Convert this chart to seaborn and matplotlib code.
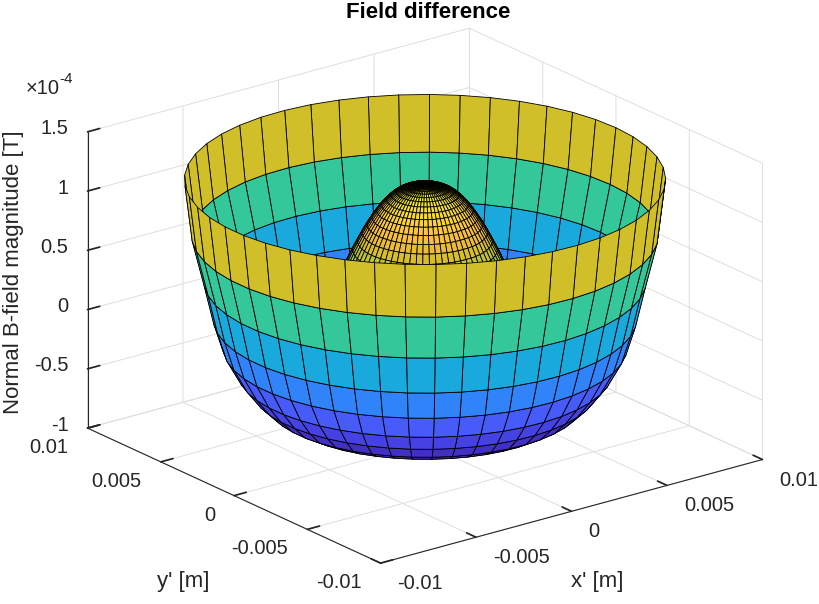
import numpy as np
import matplotlib
matplotlib.use("Agg")
import matplotlib.pyplot as plt
import seaborn as sns
from matplotlib.colors import LinearSegmentedColormap, Normalize
from mpl_toolkits.mplot3d.art3d import Poly3DCollection
from mpl_toolkits.mplot3d import proj3d

# ---------- DATA (radial profile, z in units of 1e-4 T) ----------
bump_r = [0.0, 0.0002, 0.0004, 0.0006, 0.0008, 0.0010, 0.0012, 0.0014, 0.0016,
          0.0018, 0.0020, 0.0022, 0.0024, 0.0026, 0.0028, 0.0030, 0.0032, 0.0034,
          0.0036, 0.0038, 0.0040, 0.0042, 0.0044]
bump_z = [1.182, 1.181, 1.178, 1.172, 1.163, 1.148, 1.127, 1.098, 1.062,
          1.020, 0.971, 0.915, 0.853, 0.787, 0.714, 0.639, 0.559, 0.475,
          0.390, 0.304, 0.219, 0.135, 0.054]
bowl_r = [0.0044, 0.0050, 0.0055, 0.0060, 0.0066, 0.0072, 0.0078, 0.0084,
          0.0088, 0.0092, 0.0097, 0.0100]
bowl_z = [0.054, -0.55, -0.72, -0.70, -0.64, -0.53, -0.385, -0.182,
          0.059, 0.383, 0.765, 1.23]

xy_ticks = [-0.01, -0.005, 0, 0.005, 0.01]
xy_ticklabels = ["-0.01", "-0.005", "0", "0.005", "0.01"]
z_ticks = [-1, -0.5, 0, 0.5, 1, 1.5]
z_ticklabels = ["-1", "-0.5", "0", "0.5", "1", "1.5"]

# parula-like colormap
parula_pts = [
    (0.2422, 0.1504, 0.6603), (0.2706, 0.2147, 0.8364), (0.2813, 0.3006, 0.9414),
    (0.2699, 0.3892, 0.9906), (0.1963, 0.4847, 0.9892), (0.1687, 0.5703, 0.9359),
    (0.1248, 0.6459, 0.8883), (0.0297, 0.7082, 0.8163), (0.0964, 0.7500, 0.7120),
    (0.2161, 0.7843, 0.5923), (0.3909, 0.8029, 0.4354), (0.6174, 0.7876, 0.2612),
    (0.8203, 0.7498, 0.1535), (0.9728, 0.7298, 0.2394), (0.9892, 0.8136, 0.1885),
    (0.9597, 0.9135, 0.1423), (0.9769, 0.9839, 0.0805)]
parula_pos = [i * 4 / 63 for i in range(16)] + [1.0]
parula = LinearSegmentedColormap.from_list("parula", list(zip(parula_pos, parula_pts)))

sns.set_theme(style="white")
plt.rcParams["font.family"] = ["Liberation Sans", "DejaVu Sans"]
TXT = "#262626"
GRID = "#dedede"
FS = 14.5

zmin = min(min(bump_z), min(bowl_z))
zmax = max(max(bump_z), max(bowl_z))
norm = Normalize(zmin, zmax)


def polar_quads(r, z, n_theta):
    r = np.asarray(r)
    z = np.asarray(z)
    th = np.linspace(0, 2 * np.pi, n_theta)
    X = r[:, None] * np.cos(th)[None, :]
    Y = r[:, None] * np.sin(th)[None, :]
    Z = np.repeat(z[:, None], n_theta, axis=1)
    verts, vals = [], []
    for i in range(len(r) - 1):
        for j in range(n_theta - 1):
            idx = [(i, j), (i + 1, j), (i + 1, j + 1), (i, j + 1)]
            verts.append([(X[a, b], Y[a, b], Z[a, b]) for a, b in idx])
            vals.append(Z[i, j])  # flat colour from first vertex
    return verts, vals


v1, c1 = polar_quads(bowl_r, bowl_z, 50)
v2, c2 = polar_quads(bump_r, bump_z, 65)

fig = plt.figure(figsize=(8.2, 6.04), dpi=100)
ax = fig.add_subplot(projection="3d")
ax.set_proj_type("ortho")
ax.view_init(elev=20.7, azim=-127.5)
ax.set_box_aspect((1, 1, 0.658))

coll = Poly3DCollection(v1 + v2, facecolors=parula(norm(np.array(c1 + c2))),
                        edgecolors="black", linewidths=0.6)
ax.add_collection3d(coll)

ax.set_xlim(-0.01, 0.01)
ax.set_ylim(-0.01, 0.01)
ax.set_zlim(-1, 1.5)
ax.set_xticks(xy_ticks)
ax.set_yticks(xy_ticks)
ax.set_zticks(z_ticks)
ax.set_xticklabels([])
ax.set_yticklabels([])
ax.set_zticklabels([])

for axis in (ax.xaxis, ax.yaxis, ax.zaxis):
    axis.set_pane_color((1, 1, 1, 0))
    axis.pane.set_edgecolor(GRID)
    axis._axinfo["grid"].update(color=GRID, linewidth=0.7)
    axis._axinfo["tick"].update(inward_factor=0.0, outward_factor=0.4)
    axis._axinfo["axisline"]["color"] = TXT
    axis.line.set_color(TXT)
    axis.line.set_linewidth(0.8)
ax.tick_params(colors=TXT)

# ---------- fit the projected box onto the reference frame ----------
W, H = 820, 604
target = np.array([[87, H - 427], [763, H - 460], [469, H - 29], [381, H - 563]], float)
corners = [(-0.01, 0.01, -1), (0.01, -0.01, -1), (0.01, 0.01, 1.5), (-0.01, -0.01, -1)]


def to_px(x, y, z):
    xs, ys, _ = proj3d.proj_transform(x, y, z, ax.get_proj())
    return ax.transData.transform((xs, ys))


fig.canvas.draw()
bb = ax.get_position().transformed(fig.transFigure)
c0 = np.array([(bb.x0 + bb.x1) / 2, (bb.y0 + bb.y1) / 2])
q = (np.array([to_px(*c) for c in corners]) - c0) / bb.width
A = np.zeros((8, 3))
b = np.zeros(8)
for k in range(4):
    A[2 * k] = [q[k, 0], 1, 0]
    A[2 * k + 1] = [q[k, 1], 0, 1]
    b[2 * k], b[2 * k + 1] = target[k]
S, cx, cy = np.linalg.lstsq(A, b, rcond=None)[0]
ax.set_position([(cx - S / 2) / W, (cy - S / 2) / H, S / W, S / H])
fig.canvas.draw()

# tick labels placed next to the projected tick positions (MATLAB style)
for t, lab in zip(xy_ticks, xy_ticklabels):
    px, py = to_px(t, -0.01, -1)
    fig.text((px + 17) / W, (py - 20.5) / H, lab, ha="left", va="center",
             fontsize=FS, color=TXT)
    px, py = to_px(-0.01, t, -1)
    fig.text((px - 19) / W, (py - 19.5) / H, lab, ha="right", va="center",
             fontsize=FS, color=TXT)
for t, lab in zip(z_ticks, z_ticklabels):
    px, py = to_px(-0.01, 0.01, t)
    fig.text((px - 19) / W, (py + 3) / H, lab, ha="right", va="center",
             fontsize=FS, color=TXT)

fig.text(428 / W, 1 - 12 / H, "Field difference", ha="center", va="center",
         fontsize=16, fontweight="bold", color="black")
fig.text(14 / W, 1 - 272 / H, "Normal B-field magnitude [T]", rotation=90,
         ha="center", va="center", fontsize=16, color=TXT)
fig.text(597 / W, 1 - 581 / H, "x' [m]", ha="center", va="center", fontsize=16, color=TXT)
fig.text(183 / W, 1 - 581 / H, "y' [m]", ha="center", va="center", fontsize=16, color=TXT)
fig.text(26 / W, 1 - 88 / H, "\u00d710", ha="left", va="center", fontsize=FS, color=TXT)
fig.text(59 / W, 1 - 79 / H, "-4", ha="left", va="center", fontsize=11, color=TXT)

fig.savefig("out.png", dpi=100)
